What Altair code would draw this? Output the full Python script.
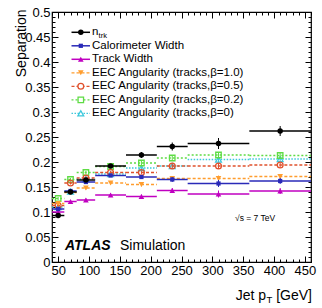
import altair as alt
import pandas as pd

# ---------------- data ----------------
bin_lo = [40, 60, 80, 110, 160, 210, 260, 360]
bin_hi = [60, 80, 110, 160, 210, 260, 360, 460]
bin_pt = [50, 70, 95, 135, 185, 235, 310, 410]

ntrk = [0.093, 0.140, 0.164, 0.192, 0.214, 0.231, 0.237, 0.262]
ntrk_err = [0.003, 0.003, 0.004, 0.004, 0.006, 0.008, 0.011, 0.010]
calw = [0.106, 0.142, 0.160, 0.173, 0.170, 0.165, 0.157, 0.162]
calw_err = [0.003, 0.003, 0.003, 0.003, 0.004, 0.005, 0.007, 0.006]
trkw = [0.100, 0.121, 0.124, 0.134, 0.131, 0.143, 0.136, 0.142]
trkw_err = [0.003, 0.003, 0.003, 0.003, 0.004, 0.005, 0.007, 0.006]
eec10 = [0.117, 0.139, 0.148, 0.158, 0.155, 0.167, 0.167, 0.171]
eec10_err = [0.003, 0.003, 0.003, 0.003, 0.004, 0.005, 0.006, 0.005]
eec05 = [0.113, 0.158, 0.168, 0.179, 0.179, 0.192, 0.192, 0.194]
eec05_err = [0.003, 0.003, 0.003, 0.003, 0.004, 0.005, 0.006, 0.005]
eec02 = [0.127, 0.165, 0.179, 0.191, 0.198, 0.208, 0.214, 0.213]
eec02_err = [0.003, 0.003, 0.003, 0.003, 0.004, 0.005, 0.006, 0.005]
eec00 = [0.110, 0.141, 0.166, 0.176, 0.188, 0.192, 0.205, 0.206]
eec00_err = [0.003, 0.003, 0.003, 0.003, 0.004, 0.005, 0.006, 0.005]

x_major = [50, 100, 150, 200, 250, 300, 350, 400, 450]
x_minor = list(range(40, 461, 10))
y_major = [0, 0.05, 0.1, 0.15, 0.2, 0.25, 0.3, 0.35, 0.4, 0.45, 0.5]
y_minor = [i / 100 for i in range(0, 51)]

FONT = "Liberation Sans"

# name, values, errors, color, shape, filled, size, dash
series = [
    ("EEC Angularity (tracks,β=0)", eec00, eec00_err, "#3cc8dc", "triangle-up", False, 34, [1.5, 1.5]),
    ("EEC Angularity (tracks,β=0.2)", eec02, eec02_err, "#5fdc45", "square", False, 30, [2, 2]),
    ("EEC Angularity (tracks,β=0.5)", eec05, eec05_err, "#e0512d", "circle", False, 34, [3, 2]),
    ("EEC Angularity (tracks,β=1.0)", eec10, eec10_err, "#ff9d2e", "triangle-down", True, 32, [3, 2]),
    ("Track Width", trkw, trkw_err, "#c000c0", "triangle-up", True, 32, None),
    ("Calorimeter Width", calw, calw_err, "#2a2ab8", "square", True, 18, None),
    ("n", ntrk, ntrk_err, "#000000", "circle", True, 30, None),
]
legend_order = [6, 5, 4, 3, 2, 1, 0]

xscale = alt.Scale(domain=[40, 460], nice=False, zero=False)
yscale = alt.Scale(domain=[0, 0.5], nice=False, zero=False)

layers = []
for name, vals, errs, color, shape, filled, size, dash in series:
    df = pd.DataFrame({
        "lo": bin_lo, "hi": bin_hi, "pt": bin_pt, "val": vals,
        "ylo": [v - e for v, e in zip(vals, errs)],
        "yhi": [v + e for v, e in zip(vals, errs)],
    })
    rkw = dict(color=color, strokeWidth=1.5 if dash is None else 1.3)
    if dash is not None:
        rkw["strokeDash"] = dash
    hbar = alt.Chart(df).mark_rule(**rkw).encode(
        x=alt.X("lo:Q", scale=xscale, axis=None), x2="hi:Q",
        y=alt.Y("val:Q", scale=yscale, axis=None))
    vbar = alt.Chart(df).mark_rule(color=color, strokeWidth=1).encode(
        x=alt.X("pt:Q", scale=xscale, axis=None),
        y=alt.Y("ylo:Q", scale=yscale, axis=None), y2="yhi:Q")
    pkw = dict(shape=shape, size=size, opacity=1, strokeWidth=1.3)
    if filled:
        pkw.update(filled=True, color=color)
    else:
        pkw.update(filled=False, stroke=color, fill="white", fillOpacity=0)
    pts = alt.Chart(df).mark_point(**pkw).encode(
        x=alt.X("pt:Q", scale=xscale, axis=None),
        y=alt.Y("val:Q", scale=yscale, axis=None))
    layers += [hbar, vbar, pts]

# ---------------- axes (ticks inside, ROOT style) ----------------
axis_df = pd.DataFrame({"pt": bin_pt, "val": ntrk})


def axis_layer(xo, yo, tick, labels, xv, yv, ytitle=None):
    xa = dict(orient=xo, values=xv, tickSize=tick, offset=-tick, domain=False,
              grid=False, labels=labels, title=None, tickColor="black", tickWidth=1)
    ya = dict(orient=yo, values=yv, tickSize=tick, offset=-tick, domain=False,
              grid=False, labels=labels, tickColor="black", tickWidth=1)
    if labels:
        xa.update(labelFont=FONT, labelFontSize=13, labelColor="black", labelPadding=2,
                  labelOverlap=False, labelFlush=False, format="d")
        ya.update(labelFont=FONT, labelFontSize=13, labelColor="black", labelPadding=2,
                  labelOverlap=False, labelFlush=False, format=".2~f")
    if ytitle:
        ya.update(title=ytitle, titleFont=FONT, titleFontSize=14, titleFontWeight="normal",
                  titleColor="black", titleAngle=270, titleAlign="right",
                  titleBaseline="middle", titleX=-37, titleY=-3)
    else:
        ya["title"] = None
    return alt.Chart(axis_df).mark_point(opacity=0).encode(
        x=alt.X("pt:Q", scale=xscale, axis=alt.Axis(**xa)),
        y=alt.Y("val:Q", scale=yscale, axis=alt.Axis(**ya)))


axes = [
    axis_layer("bottom", "left", 6, True, x_major, y_major, "Separation"),
    axis_layer("bottom", "left", 3, False, x_minor, y_minor),
    axis_layer("top", "right", 6, False, x_major, y_major),
    axis_layer("top", "right", 3, False, x_minor, y_minor),
]

# ---------------- texts ----------------
def txt(s, x, y, size, align="left", weight="normal", style="normal", baseline="alphabetic"):
    return alt.Chart(pd.DataFrame({"t": [s]})).mark_text(
        font=FONT, fontSize=size, align=align, baseline=baseline, fontWeight=weight,
        fontStyle=style, color="black").encode(
        text="t:N", x=alt.value(x), y=alt.value(y))


texts = [
    txt("ATLAS", 13, 238, 14, weight="bold", style="italic"),
    txt("Simulation", 68, 238, 14),
    txt("√s = 7 TeV", 183, 209, 8.5),
    txt("Jet p", 214, 288, 14, align="right"),
    txt("T", 214.5, 291, 9.5),
    txt("[GeV]", 260, 288, 14, align="right"),
]

# ---------------- legend ----------------
leg = []
for i, idx in enumerate(legend_order):
    name, vals, errs, color, shape, filled, size, dash = series[idx]
    yy = 20.3 + 13.5 * i
    rkw = dict(color=color, strokeWidth=1.5 if dash is None else 1.3)
    if dash is not None:
        rkw["strokeDash"] = dash
    one = pd.DataFrame({"t": [name]})
    leg.append(alt.Chart(one).mark_rule(**rkw).encode(
        x=alt.value(19.5), x2=alt.value(38), y=alt.value(yy)))
    pkw = dict(shape=shape, size=size, opacity=1, strokeWidth=1.3)
    if filled:
        pkw.update(filled=True, color=color)
    else:
        pkw.update(filled=False, stroke=color, fill="white", fillOpacity=1)
    leg.append(alt.Chart(one).mark_point(**pkw).encode(x=alt.value(28.8), y=alt.value(yy)))
    leg.append(alt.Chart(one).mark_text(font=FONT, fontSize=11.5, align="left",
                                        baseline="middle", color="black").encode(
        text="t:N", x=alt.value(40), y=alt.value(yy)))
    if name == "n":
        leg.append(txt("trk", 46.6, yy + 5.5, 7.5))

chart = alt.layer(*axes, *layers, *texts, *leg).resolve_axis(
    x="independent", y="independent").properties(
    width=259, height=250,
    autosize=alt.AutoSizeParams(type="none"),
    padding={"left": 52, "top": 12, "right": 11, "bottom": 46},
).configure_view(stroke="black", strokeWidth=1.2)

chart.save("out.html", embed_options={"renderer": "svg", "actions": False})
